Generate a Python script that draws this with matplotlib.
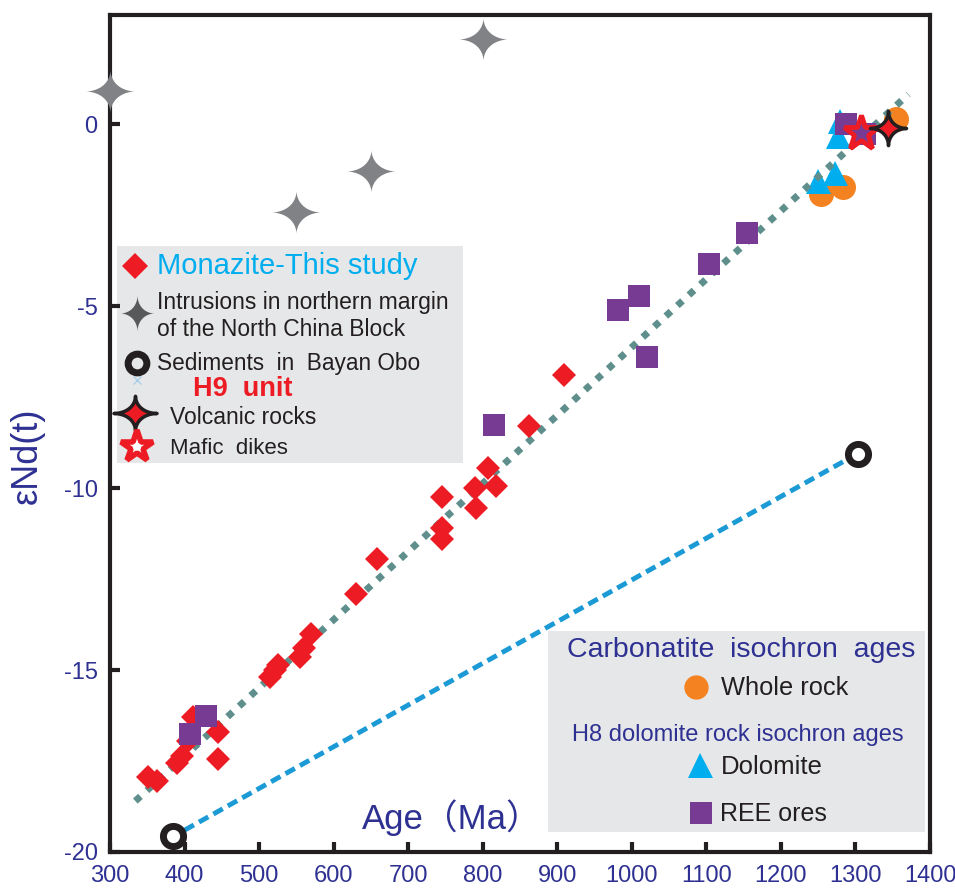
import numpy as np
import matplotlib
matplotlib.use("Agg")
import matplotlib.pyplot as plt
from matplotlib.patches import Rectangle
from matplotlib.path import Path

# ---- data (age in Ma, eNd(t)) ----
monazite_age = [351, 363, 390, 397, 405, 411, 445, 445,
                515, 522, 525, 555, 560, 570, 630, 658,
                746, 746, 746, 789, 791, 807, 818, 862, 909]
monazite_end = [-17.95, -18.05, -17.55, -17.35, -16.95, -16.3, -16.7, -17.45,
                -15.2, -15.0, -14.85, -14.65, -14.4, -14.0, -12.9, -11.95,
                -10.25, -11.1, -11.4, -10.0, -10.55, -9.45, -9.95, -8.3, -6.9]

intrusion_age = [300, 550, 650, 800]
intrusion_end = [0.9, -2.4, -1.3, 2.35]

sediment_age = [385, 1303]
sediment_end = [-19.55, -9.05]

wholerock_age = [1254, 1283, 1354]
wholerock_end = [-1.92, -1.73, 0.14]

dolomite_age = [1250, 1273, 1276, 1279]
dolomite_end = [-1.56, -1.35, -0.33, 0.08]

ree_age = [407, 429, 815, 981, 1009, 1021, 1104, 1154, 1287, 1313]
ree_end = [-16.75, -16.25, -8.27, -5.1, -4.72, -6.4, -3.84, -2.99, 0.0, -0.27]

volcanic_age = [1344]
volcanic_end = [-0.1]
mafic_age = [1307]
mafic_end = [-0.25]

trend_age = [334, 1371]
trend_end = [-18.6, 0.82]
sed_line_age = [400, 1290]
sed_line_end = [-19.4, -9.2]

xticks = [300, 400, 500, 600, 700, 800, 900, 1000, 1100, 1200, 1300, 1400]
yticks = [-20, -15, -10, -5, 0]

# ---- colours ----
RED = "#ed1c24"
PURPLE = "#773b93"
CYAN = "#00aeef"
ORANGE = "#f58220"
TEAL = "#5f8f8c"
BLUE = "#1b9ad6"
GREY = "#808285"
NAVY = "#2e3192"
INK = "#231f20"

TXT = ["Liberation Sans", "DejaVu Sans"]


def star4(ratio=0.86, k=3.6):
    # four-pointed star with concave sides
    t = np.linspace(0, 2 * np.pi, 161)
    c, s = np.cos(t), np.sin(t)
    x = np.sign(c) * np.abs(c) ** k
    y = np.sign(s) * np.abs(s) ** k * ratio
    return Path(np.column_stack([x, y]), closed=True)


W, H = 955, 891
fig = plt.figure(figsize=(W / 100, H / 100), dpi=100)
ax = fig.add_axes([110 / W, 1 - 852 / H, 820 / W, 837 / H])
tf = fig.transFigure


def P(px, py):
    return px / W, 1 - py / H


ax.set_xlim(300, 1400)
ax.set_ylim(-20, 3)

# lines
ax.plot(sed_line_age, sed_line_end, color=BLUE, lw=3.5, ls=(0, (2.2, 1.2)),
        dash_capstyle="butt", zorder=2)

# markers
ax.plot(wholerock_age, wholerock_end, "o", ms=18, color=ORANGE, mew=0, zorder=3)
ax.plot(dolomite_age, dolomite_end, "^", ms=18, color=CYAN, mew=0, zorder=3)
ax.plot(trend_age, trend_end, color=TEAL, lw=5, ls=(0, (1, 1.25)),
        dash_capstyle="butt", zorder=4)
ax.plot(monazite_age, monazite_end, "D", ms=12.5, color=RED, mew=0, zorder=5)
ax.plot(ree_age, ree_end, "s", ms=15.5, color=PURPLE, mew=0, zorder=6)
ax.plot(intrusion_age, intrusion_end, ls="none", marker=star4(0.86, 3.6), ms=36,
        color=GREY, mew=0, zorder=6, clip_on=False)
ax.plot(sediment_age, sediment_end, "o", ms=14.5, mfc="none", mec=INK, mew=5,
        zorder=6, clip_on=False)
ax.plot(mafic_age, mafic_end, "*", ms=26, mfc="none", mec=RED, mew=3.5, zorder=7)
ax.plot(volcanic_age, volcanic_end, ls="none", marker=star4(0.95, 3.6), ms=26,
        mfc=RED, mec=INK, mew=2.5, zorder=8)

# axes styling
for sp in ax.spines.values():
    sp.set_linewidth(3)
    sp.set_color(INK)
ax.set_xticks(xticks)
ax.set_xticklabels([str(v) for v in xticks])
ax.set_yticks(yticks)
ax.set_yticklabels([str(v) for v in yticks])
ax.tick_params(direction="in", length=7, width=3, color=INK, labelcolor=NAVY,
               labelsize=17, pad=9)
for lab in ax.get_xticklabels() + ax.get_yticklabels():
    lab.set_family(TXT)

# axis titles
fig.text(*P(27, 456), "εNd(t)", color=NAVY, fontsize=26, family=TXT,
         rotation=90, ha="center", va="center")
fig.text(*P(452, 818), "Age（Ma）", color=NAVY, fontsize=25,
         family=["Liberation Sans", "Noto Sans CJK SC"], ha="center", va="center")


def box(left, top, right, bottom):
    x0, y0 = P(left, bottom)
    x1, y1 = P(right, top)
    ax.add_patch(Rectangle((x0, y0), x1 - x0, y1 - y0, transform=tf,
                           facecolor="#e6e7e8", edgecolor="none", zorder=1,
                           clip_on=False))


def swatch(px, py, **kw):
    ax.plot(*P(px, py), ls="none", transform=tf, clip_on=False, zorder=10, **kw)


# ---- legend box 1 ----
box(117, 246, 463, 463)
swatch(135, 266, marker="D", ms=13, color=RED, mew=0)
fig.text(*P(157, 266), "Monazite-This study", color=CYAN, fontsize=21, family=TXT, va="center")
swatch(137, 313, marker=star4(1.05, 3.6), ms=26, color="#58595b", mew=0)
fig.text(*P(157, 302), "Intrusions in northern margin", color=INK, fontsize=16.5, family=TXT, va="center")
fig.text(*P(157, 329), "of the North China Block", color=INK, fontsize=16.5, family=TXT, va="center")
swatch(137, 363, marker="o", ms=13.5, mfc="none", mec=INK, mew=5)
swatch(137, 380, marker="x", ms=6, mec="#a8cfe8", mew=1)
fig.text(*P(157, 364), "Sediments  in  Bayan Obo", color=INK, fontsize=16.3, family=TXT, va="center")
fig.text(*P(193, 389), "H9  unit", color=RED, fontsize=19.5, family=TXT, weight="bold", va="center")
swatch(135, 413, marker=star4(0.8, 3.6), ms=31, mfc=RED, mec=INK, mew=2.5)
fig.text(*P(170, 418), "Volcanic rocks", color=INK, fontsize=16.5, family=TXT, va="center")
swatch(137, 447, marker="*", ms=24, mfc="white", mec=RED, mew=4)
fig.text(*P(170, 448), "Mafic  dikes", color=INK, fontsize=16, family=TXT, va="center")

# ---- legend box 2 ----
box(548, 631, 925, 832)
fig.text(*P(741, 650), "Carbonatite  isochron  ages", color=NAVY, fontsize=20.5,
         family=TXT, ha="center", va="center")
swatch(696, 687, marker="o", ms=17.5, color=ORANGE, mew=0)
fig.text(*P(721, 688), "Whole rock", color=INK, fontsize=18.3, family=TXT, va="center")
fig.text(*P(738, 735), "H8 dolomite rock isochron ages", color=NAVY, fontsize=17,
         family=TXT, ha="center", va="center")
swatch(700, 765, marker="^", ms=18, color=CYAN, mew=0)
fig.text(*P(721, 767), "Dolomite", color=INK, fontsize=18.5, family=TXT, va="center")
swatch(701, 813, marker="s", ms=16, color=PURPLE, mew=0)
fig.text(*P(720, 814), "REE ores", color=INK, fontsize=18, family=TXT, va="center")

fig.savefig("out.png", dpi=100)
